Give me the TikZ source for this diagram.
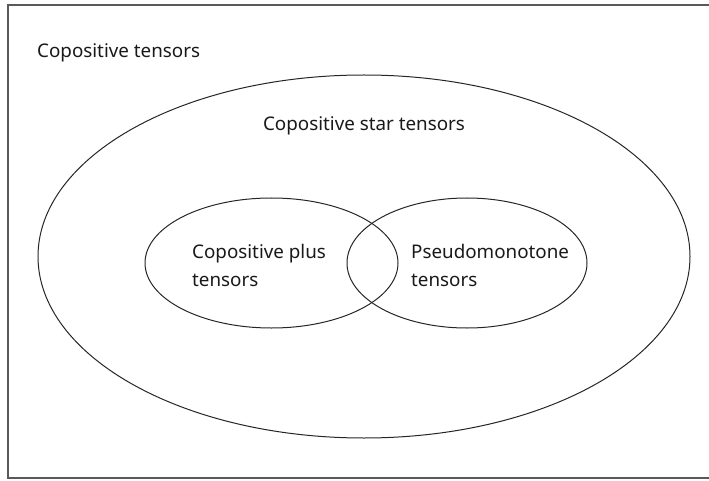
\documentclass[tikz,border=0pt]{standalone}
\usepackage{fontspec}
\setmainfont{Noto Sans}
\usetikzlibrary{shapes.geometric}
\begin{document}
\begin{tikzpicture}[x=1pt,y=-1pt,
  lbl/.style={font=\fontsize{18.8}{26}\selectfont, inner sep=0pt, text=black!90},
  set/.style={draw=black!85, line width=1pt, ellipse, inner sep=0pt}]
\useasboundingbox (0,0) rectangle (709,481);
\draw[line width=1.6pt, draw=black!65] (715,5) -- (8,5) -- (8,478) -- (715,478);
\node[set, minimum width=652pt, minimum height=363pt] (big) at (364,256.5) {};
\node[set, minimum width=253pt, minimum height=130pt] (plus) at (271.5,263) {};
\node[set, minimum width=240pt, minimum height=130pt] (pseudo) at (467,263) {};
\node[lbl, anchor=base west] (cop) at (37,58) {Copositive tensors};
\node[lbl, anchor=base] (star) at (364,131) {Copositive star tensors};
\node[lbl, anchor=base west] (plusa) at (192,258) {Copositive plus};
\node[lbl, anchor=base west] (plusb) at (192,286) {tensors};
\node[lbl, anchor=base west] (pseudoa) at (411,258) {Pseudomonotone};
\node[lbl, anchor=base west] (pseudob) at (411,286) {tensors};
\end{tikzpicture}
\end{document}
